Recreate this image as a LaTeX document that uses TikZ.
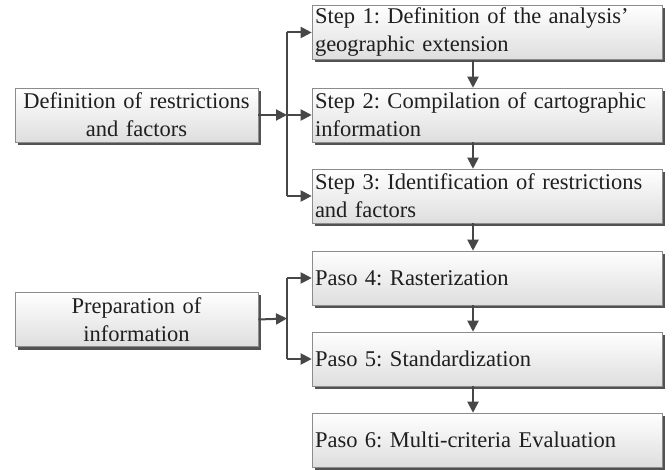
\documentclass[tikz,border=0pt]{standalone}
\usepackage{fontspec}
\setmainfont[WordSpace=1.3]{Liberation Serif}
\usetikzlibrary{arrows.meta,shadows}
\begin{document}
\frenchspacing
\begin{tikzpicture}[x=1pt,y=-1pt,
  box/.style={draw=black!45, line width=0.6pt, top color=white, bottom color=black!13,
    drop shadow={shadow xshift=3pt, shadow yshift=-3pt, fill=black!68, opacity=1},
    font=\fontsize{22.5}{28}\selectfont, text=black!88},
  stepbox/.style={box, minimum width=350pt, minimum height=54pt, text width=344pt,
    inner xsep=3pt, inner ysep=0pt, align=left},
  sidebox/.style={box, minimum width=243pt, minimum height=54pt, text width=237pt,
    inner xsep=3pt, inner ysep=0pt, align=center},
  arr/.style={draw=black!72, line width=2pt, -{Triangle[length=11pt,width=11pt]}},
  bar/.style={draw=black!72, line width=2.4pt}]
\useasboundingbox (0,0) rectangle (672,470);

% process steps
\node[stepbox] (s1) at (487,32.5) {Step 1: Definition of the analysis’\\geographic extension};
\node[stepbox] (s2) at (487,115) {Step 2: Compilation of cartographic\\information};
\node[stepbox] (s3) at (487,196) {Step 3: Identification of restrictions\\and factors};
\node[stepbox] (s4) at (487,278) {Paso 4: Rasterization};
\node[stepbox] (s5) at (487,359) {Paso 5: Standardization};
\node[stepbox] (s6) at (487,440) {Paso 6: Multi-criteria Evaluation};

% stage labels
\node[sidebox] (g1) at (136.5,115) {Definition of restrictions\\and factors};
\node[sidebox] (g2) at (136.5,319.5) {Preparation of\\information};

% helper coordinates for the brackets and the vertical flow
\coordinate (b1) at (287,115);
\coordinate (b2) at (287,318.5);
\coordinate (ax) at (473,0);

% bracket of the first stage
\draw[bar] (s1.west -| b1) -- (s3.west -| b1);
\draw[arr] (g1.east) -- (b1);
\draw[arr] (s1.west -| b1) -- (s1.west);
\draw[arr] (b1) -- (s2.west);
\draw[arr] (s3.west -| b1) -- (s3.west);

% bracket of the second stage
\draw[bar] (s4.west -| b2) -- (s5.west -| b2);
\draw[arr] (g2.east) -- (b2);
\draw[arr] (s4.west -| b2) -- (s4.west);
\draw[arr] (s5.west -| b2) -- (s5.west);

% vertical flow between steps
\draw[arr] (s1.south -| ax) -- (s2.north -| ax);
\draw[arr] (s2.south -| ax) -- (s3.north -| ax);
\draw[arr] (s3.south -| ax) -- (s4.north -| ax);
\draw[arr] (s4.south -| ax) -- (s5.north -| ax);
\draw[arr] (s5.south -| ax) -- (s6.north -| ax);
\end{tikzpicture}
\end{document}
